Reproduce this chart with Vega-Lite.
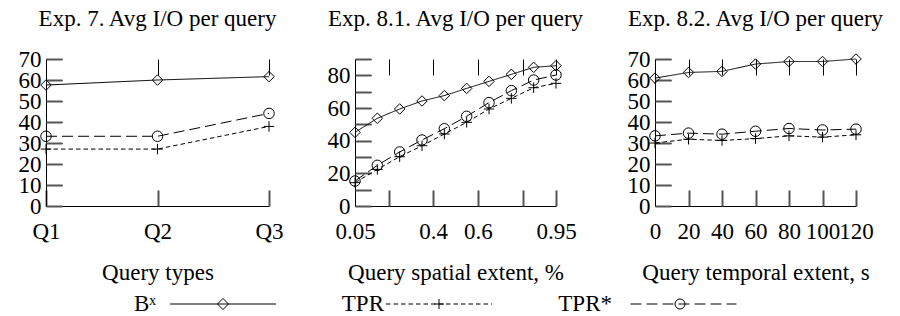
{
  "$schema": "https://vega.github.io/schema/vega-lite/v6.json",
  "background": "white",
  "padding": {"left": 18, "top": 8, "right": 5, "bottom": 0},
  "config": {
    "font": "Liberation Serif",
    "view": {"stroke": null},
    "axis": {
      "domainColor": "black", "domainWidth": 1,
      "tickColor": "#555555", "tickWidth": 2, "ticks": true, "tickSize": 6,
      "labelColor": "black", "labelFont": "Liberation Serif", "labelFontSize": 23,
      "titleFont": "Liberation Serif", "titleFontSize": 23, "titleFontWeight": "normal", "titleColor": "black",
      "grid": false, "labelFlush": false, "labelOverlap": false
    },
    "axisX": {"labelPadding": 14, "titlePadding": 18},
    "axisY": {"labelPadding": 5},
    "title": {"font": "Liberation Serif", "fontSize": 23, "fontWeight": "normal", "color": "black", "offset": 17, "frame": "group", "anchor": "middle"}
  },
  "datasets": {
    "p1": [
      {"q": "Q1", "s": "Bx", "v": 57.6}, {"q": "Q2", "s": "Bx", "v": 60.0}, {"q": "Q3", "s": "Bx", "v": 61.6},
      {"q": "Q1", "s": "TPR", "v": 27.1}, {"q": "Q2", "s": "TPR", "v": 27.1}, {"q": "Q3", "s": "TPR", "v": 37.9},
      {"q": "Q1", "s": "TPR*", "v": 33.2}, {"q": "Q2", "s": "TPR*", "v": 33.2}, {"q": "Q3", "s": "TPR*", "v": 44.1}
    ],
    "p2": [
      {"x": 0.05, "s": "Bx", "v": 45.1}, {"x": 0.15, "s": "Bx", "v": 53.7}, {"x": 0.25, "s": "Bx", "v": 59.4}, {"x": 0.35, "s": "Bx", "v": 64.3}, {"x": 0.45, "s": "Bx", "v": 67.6},
      {"x": 0.55, "s": "Bx", "v": 72.0}, {"x": 0.65, "s": "Bx", "v": 76.3}, {"x": 0.75, "s": "Bx", "v": 80.6}, {"x": 0.85, "s": "Bx", "v": 84.9}, {"x": 0.95, "s": "Bx", "v": 85.9},
      {"x": 0.05, "s": "TPR", "v": 14.3}, {"x": 0.15, "s": "TPR", "v": 22.4}, {"x": 0.25, "s": "TPR", "v": 30.2}, {"x": 0.35, "s": "TPR", "v": 36.9}, {"x": 0.45, "s": "TPR", "v": 44.1},
      {"x": 0.55, "s": "TPR", "v": 51.2}, {"x": 0.65, "s": "TPR", "v": 59.4}, {"x": 0.75, "s": "TPR", "v": 65.9}, {"x": 0.85, "s": "TPR", "v": 72.4}, {"x": 0.95, "s": "TPR", "v": 75.1},
      {"x": 0.05, "s": "TPR*", "v": 15.3}, {"x": 0.15, "s": "TPR*", "v": 24.9}, {"x": 0.25, "s": "TPR*", "v": 33.1}, {"x": 0.35, "s": "TPR*", "v": 40.4}, {"x": 0.45, "s": "TPR*", "v": 47.3},
      {"x": 0.55, "s": "TPR*", "v": 54.9}, {"x": 0.65, "s": "TPR*", "v": 63.3}, {"x": 0.75, "s": "TPR*", "v": 70.6}, {"x": 0.85, "s": "TPR*", "v": 77.1}, {"x": 0.95, "s": "TPR*", "v": 80.2}
    ],
    "p3": [
      {"x": 0, "s": "Bx", "v": 60.9}, {"x": 20, "s": "Bx", "v": 63.6}, {"x": 40, "s": "Bx", "v": 64.1}, {"x": 60, "s": "Bx", "v": 67.6}, {"x": 80, "s": "Bx", "v": 68.8}, {"x": 100, "s": "Bx", "v": 68.8}, {"x": 120, "s": "Bx", "v": 70.0},
      {"x": 0, "s": "TPR", "v": 30.0}, {"x": 20, "s": "TPR", "v": 31.8}, {"x": 40, "s": "TPR", "v": 31.2}, {"x": 60, "s": "TPR", "v": 32.1}, {"x": 80, "s": "TPR", "v": 33.4}, {"x": 100, "s": "TPR", "v": 32.8}, {"x": 120, "s": "TPR", "v": 33.9},
      {"x": 0, "s": "TPR*", "v": 33.4}, {"x": 20, "s": "TPR*", "v": 34.7}, {"x": 40, "s": "TPR*", "v": 34.2}, {"x": 60, "s": "TPR*", "v": 35.6}, {"x": 80, "s": "TPR*", "v": 36.9}, {"x": 100, "s": "TPR*", "v": 36.2}, {"x": 120, "s": "TPR*", "v": 36.6}
    ],
    "key": [
      {"s": "Bx", "label": "Bˣ"}, {"s": "TPR", "label": "TPR"}, {"s": "TPR*", "label": "TPR*"}
    ]
  },
  "resolve": {"scale": {"shape": "independent", "strokeDash": "independent"}},
  "spacing": 9,
  "vconcat": [
    {
      "spacing": 43,
      "hconcat": [
        {
          "title": "Exp. 7. Avg I/O per query",
          "width": 223, "height": 147,
          "data": {"name": "p1"},
          "resolve": {"axis": {"x": "independent", "y": "independent"}},
          "layer": [
            {"mark": {"type": "line", "color": "black", "strokeWidth": 1},
             "encoding": {
               "x": {"field": "q", "type": "ordinal", "scale": {"type": "point", "padding": 0}, "axis": {"title": "Query types", "labelAngle": 0, "ticks": false, "grid": true, "gridColor": "black", "gridWidth": 1, "gridOpacity": 1, "gridDash": [16, 2000]}},
               "y": {"field": "v", "type": "quantitative", "scale": {"domain": [0, 70], "nice": false}, "axis": {"title": null, "values": [0, 10, 20, 30, 40, 50, 60, 70], "ticks": false, "grid": true, "gridColor": "black", "gridWidth": 1, "gridOpacity": 1, "gridDash": [16, 2000]}},
               "detail": {"field": "s"},
               "strokeDash": {"field": "s", "type": "nominal", "scale": {"domain": ["Bx", "TPR", "TPR*"], "range": [[1, 0], [4.5, 3], [11, 5]]}, "legend": null}}},
            {"mark": {"type": "point", "filled": false, "color": "black", "strokeWidth": 1, "opacity": 1},
             "encoding": {
               "x": {"field": "q", "type": "ordinal", "axis": {"orient": "top", "offset": -147, "title": null, "labels": false, "domain": false, "ticks": true, "tickSize": 16, "tickColor": "#555555"}},
               "y": {"field": "v", "type": "quantitative", "axis": {"orient": "right", "offset": -223, "title": null, "labels": false, "domain": false, "ticks": true, "tickSize": 16, "tickColor": "#555555", "values": [0, 10, 20, 30, 40, 50, 60, 70]}},
               "shape": {"field": "s", "type": "nominal", "scale": {"domain": ["Bx", "TPR", "TPR*"], "range": ["diamond", "M-1,0H1M0,-1V1", "circle"]}, "legend": null},
               "size": {"value": 110}
             }}
          ]
        },
        {
          "title": "Exp. 8.1. Avg I/O per query",
          "width": 201, "height": 147,
          "data": {"name": "p2"},
          "resolve": {"axis": {"x": "independent", "y": "independent"}},
          "layer": [
            {"mark": {"type": "line", "color": "black", "strokeWidth": 1},
             "encoding": {
               "x": {"field": "x", "type": "quantitative", "scale": {"domain": [0.05, 0.95], "nice": false, "zero": false}, "axis": {"title": "Query spatial extent, %", "values": [0.05, 0.2, 0.4, 0.6, 0.8, 0.95], "ticks": false, "grid": true, "gridColor": "black", "gridWidth": 1, "gridOpacity": 1, "gridDash": [16, 2000], "labelExpr": "datum.value == 0.05 ? '0.05' : datum.value == 0.4 ? '0.4' : datum.value == 0.6 ? '0.6' : datum.value == 0.95 ? '0.95' : ''"}},
               "y": {"field": "v", "type": "quantitative", "scale": {"domain": [0, 90], "nice": false}, "axis": {"title": null, "values": [0, 10, 20, 30, 40, 50, 60, 70, 80, 90], "ticks": false, "grid": true, "gridColor": "black", "gridWidth": 1, "gridOpacity": 1, "gridDash": [16, 2000], "labelExpr": "datum.value % 20 == 0 && datum.value < 90 ? datum.label : ''"}},
               "detail": {"field": "s"},
               "strokeDash": {"field": "s", "type": "nominal", "legend": null}}},
            {"mark": {"type": "point", "filled": false, "color": "black", "strokeWidth": 1, "opacity": 1},
             "encoding": {
               "x": {"field": "x", "type": "quantitative", "axis": {"orient": "top", "offset": -147, "title": null, "labels": false, "domain": false, "ticks": true, "tickSize": 16, "tickColor": "#555555", "values": [0.2, 0.4, 0.6, 0.8, 0.95]}},
               "y": {"field": "v", "type": "quantitative", "axis": {"orient": "right", "offset": -201, "title": null, "labels": false, "domain": false, "ticks": true, "tickSize": 16, "tickColor": "#555555", "values": [0, 10, 20, 30, 40, 50, 60, 70, 80, 90]}},
               "shape": {"field": "s", "type": "nominal", "legend": null},
               "size": {"value": 110}}}
          ]
        },
        {
          "title": "Exp. 8.2. Avg I/O per query",
          "width": 201, "height": 147,
          "data": {"name": "p3"},
          "resolve": {"axis": {"x": "independent", "y": "independent"}},
          "layer": [
            {"mark": {"type": "line", "color": "black", "strokeWidth": 1},
             "encoding": {
               "x": {"field": "x", "type": "quantitative", "scale": {"domain": [0, 120], "nice": false}, "axis": {"title": "Query temporal extent, s", "values": [0, 20, 40, 60, 80, 100, 120], "ticks": false, "grid": true, "gridColor": "black", "gridWidth": 1, "gridOpacity": 1, "gridDash": [16, 2000]}},
               "y": {"field": "v", "type": "quantitative", "scale": {"domain": [0, 70], "nice": false}, "axis": {"title": null, "values": [0, 10, 20, 30, 40, 50, 60, 70], "ticks": false, "grid": true, "gridColor": "black", "gridWidth": 1, "gridOpacity": 1, "gridDash": [16, 2000]}},
               "detail": {"field": "s"},
               "strokeDash": {"field": "s", "type": "nominal", "legend": null}}},
            {"mark": {"type": "point", "filled": false, "color": "black", "strokeWidth": 1, "opacity": 1},
             "encoding": {
               "x": {"field": "x", "type": "quantitative", "axis": {"orient": "top", "offset": -147, "title": null, "labels": false, "domain": false, "ticks": true, "tickSize": 16, "tickColor": "#555555", "values": [20, 40, 60, 80, 100, 120]}},
               "y": {"field": "v", "type": "quantitative", "axis": {"orient": "right", "offset": -201, "title": null, "labels": false, "domain": false, "ticks": true, "tickSize": 16, "tickColor": "#555555", "values": [0, 10, 20, 30, 40, 50, 60, 70]}},
               "shape": {"field": "s", "type": "nominal", "legend": null},
               "size": {"value": 110}}}
          ]
        }
      ]
    },
    {
      "width": 810, "height": 16,
      "data": {"name": "key"},
      "encoding": {
        "x": {"field": "s", "type": "nominal", "sort": ["Bx", "TPR", "TPR*"], "scale": {"type": "point", "padding": 0.7763}, "axis": null}
      },
      "layer": [
        {"mark": {"type": "point", "filled": false, "color": "black", "strokeWidth": 1, "opacity": 1, "size": 100},
         "encoding": {
           "shape": {"field": "s", "type": "nominal", "legend": null,
             "scale": {"domain": ["Bx", "TPR", "TPR*"], "range": [
               "M-10.6,0H10.6M0,-1.1L1.1,0L0,1.1L-1.1,0Z",
               "M-13,0H-12.1M-11.5,0H-10.6M-10,0H-9.1M-8.5,0H-7.6M-7,0H-6.1M-5.5,0H-4.6M-4,0H-3.1M-2.5,0H-1.6M-1,0H-0.1M0.5,0H1.4M2,0H2.9M3.5,0H4.4M5,0H5.9M6.5,0H7.4M8,0H8.2M-3.4,0H-1.4M-2.4,-1V1",
               "M-9.7,0H-7.5M-6.5,0H-4.3M-3.3,0H-1.1M-0.1,0H2.1M3.1,0H5.3M6.3,0H8.5M9.5,0H11.5M-0.8,0A1,1 0 1,0 1.2,0A1,1 0 1,0 -0.8,0Z"
             ]}}
         }},
        {"mark": {"type": "text", "align": "right", "baseline": "middle", "dx": -67, "font": "Liberation Serif", "fontSize": 23, "color": "black"},
         "encoding": {"text": {"field": "label"}}}
      ]
    }
  ]
}
